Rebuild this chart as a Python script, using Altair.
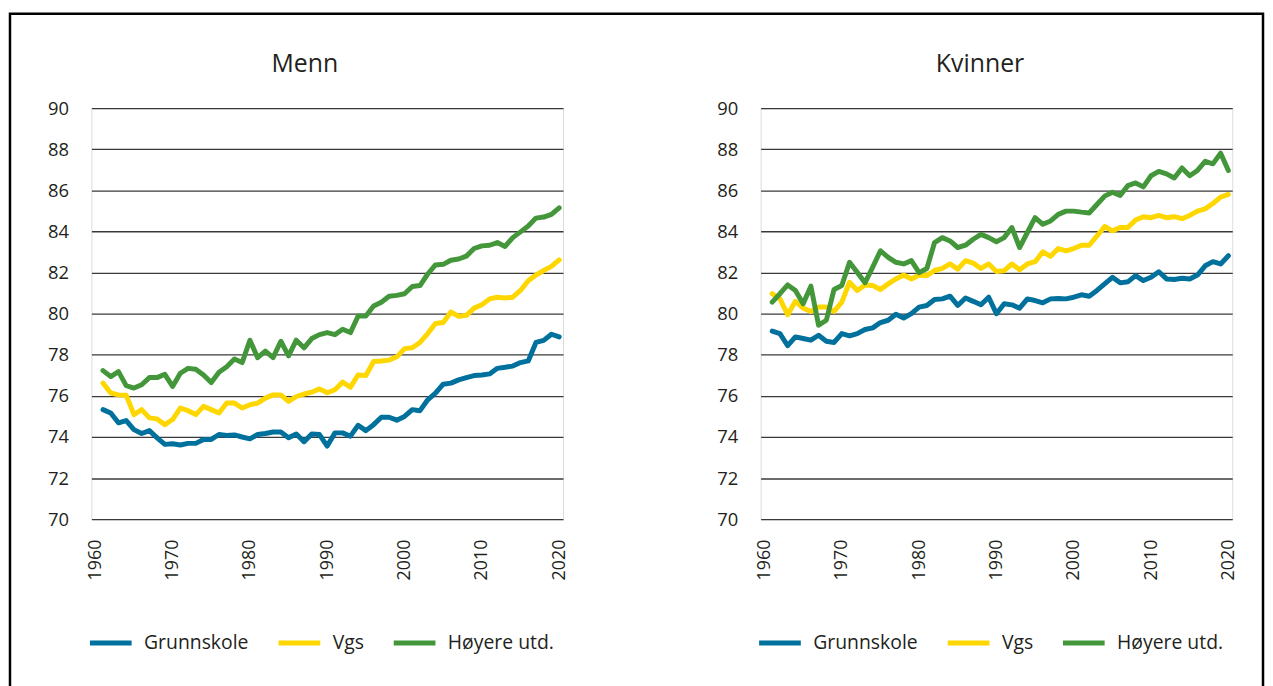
import altair as alt
import pandas as pd

years = list(range(1961, 2021))
series_names = ["Grunnskole", "Vgs", "Høyere utd."]
series_colors = ["#00719c", "#ffd700", "#43973a"]
x_tick_values = [1960, 1970, 1980, 1990, 2000, 2010, 2020]
y_tick_values = [70, 72, 74, 76, 78, 80, 82, 84, 86, 88, 90]

menn_grunnskole = [
    75.33, 75.17, 74.69, 74.80, 74.36, 74.17, 74.31, 73.96, 73.64, 73.67,
    73.61, 73.69, 73.69, 73.88, 73.88, 74.12, 74.07, 74.10, 74.00, 73.91,
    74.12, 74.17, 74.24, 74.24, 73.96, 74.15, 73.77, 74.15, 74.12, 73.56,
    74.20, 74.20, 74.04, 74.57, 74.31, 74.60, 74.96, 74.96, 74.82, 75.00,
    75.33, 75.28, 75.81, 76.13, 76.57, 76.62, 76.78, 76.89, 76.99, 77.02,
    77.07, 77.34, 77.39, 77.45, 77.62, 77.70, 78.60, 78.70, 79.00, 78.87]
menn_vgs = [
    76.62, 76.14, 76.05, 76.03, 75.09, 75.33, 74.93, 74.88, 74.60, 74.85,
    75.41, 75.28, 75.09, 75.49, 75.33, 75.17, 75.65, 75.65, 75.41, 75.57,
    75.65, 75.89, 76.05, 76.05, 75.73, 75.97, 76.09, 76.18, 76.34, 76.15,
    76.30, 76.67, 76.42, 77.02, 76.99, 77.67, 77.70, 77.74, 77.90, 78.30,
    78.34, 78.60, 79.03, 79.52, 79.57, 80.08, 79.87, 79.92, 80.27, 80.43,
    80.72, 80.80, 80.76, 80.80, 81.13, 81.60, 81.88, 82.10, 82.30, 82.62]
menn_hoyere = [
    77.23, 76.94, 77.18, 76.50, 76.38, 76.54, 76.89, 76.89, 77.05, 76.46,
    77.10, 77.34, 77.30, 77.02, 76.65, 77.15, 77.42, 77.79, 77.62, 78.71,
    77.86, 78.18, 77.86, 78.66, 77.95, 78.71, 78.34, 78.79, 78.98, 79.08,
    78.98, 79.24, 79.08, 79.89, 79.89, 80.37, 80.56, 80.85, 80.89, 80.97,
    81.32, 81.37, 81.93, 82.37, 82.40, 82.60, 82.66, 82.80, 83.17, 83.30,
    83.33, 83.46, 83.27, 83.70, 83.98, 84.27, 84.65, 84.70, 84.83, 85.15]

kvinner_grunnskole = [
    79.15, 79.03, 78.44, 78.87, 78.79, 78.71, 78.95, 78.66, 78.60, 79.03,
    78.92, 79.03, 79.23, 79.31, 79.57, 79.68, 79.97, 79.79, 80.00, 80.32,
    80.40, 80.69, 80.72, 80.85, 80.40, 80.76, 80.60, 80.43, 80.80, 80.00,
    80.48, 80.43, 80.27, 80.72, 80.64, 80.53, 80.72, 80.74, 80.72, 80.80,
    80.92, 80.85, 81.13, 81.45, 81.77, 81.50, 81.55, 81.85, 81.61, 81.77,
    82.04, 81.69, 81.66, 81.72, 81.69, 81.88, 82.33, 82.53, 82.42, 82.82]
kvinner_vgs = [
    80.97, 80.72, 79.95, 80.60, 80.27, 80.11, 80.32, 80.32, 80.11, 80.56,
    81.53, 81.13, 81.40, 81.37, 81.18, 81.45, 81.69, 81.88, 81.69, 81.88,
    81.85, 82.10, 82.20, 82.42, 82.17, 82.58, 82.46, 82.20, 82.42, 82.05,
    82.09, 82.42, 82.14, 82.42, 82.53, 83.01, 82.79, 83.17, 83.06, 83.17,
    83.33, 83.33, 83.78, 84.24, 84.03, 84.19, 84.19, 84.56, 84.72, 84.67,
    84.78, 84.67, 84.72, 84.62, 84.78, 84.99, 85.10, 85.36, 85.67, 85.80]
kvinner_hoyere = [
    80.56, 80.97, 81.40, 81.13, 80.48, 81.34, 79.44, 79.68, 81.18, 81.37,
    82.50, 82.01, 81.50, 82.26, 83.06, 82.74, 82.50, 82.42, 82.58, 82.00,
    82.20, 83.46, 83.70, 83.54, 83.22, 83.33, 83.62, 83.86, 83.70, 83.50,
    83.70, 84.19, 83.22, 83.95, 84.67, 84.35, 84.51, 84.83, 84.99, 84.99,
    84.94, 84.90, 85.31, 85.72, 85.91, 85.75, 86.23, 86.36, 86.17, 86.71,
    86.92, 86.80, 86.60, 87.09, 86.71, 86.97, 87.41, 87.29, 87.81, 86.97]

FONT = "Open Sans"
TEXT = "#231f20"


def long_frame(groups):
    rows = []
    for name, vals in zip(series_names, groups):
        for yr, v in zip(years, vals):
            rows.append({"year": yr, "value": v, "series": name})
    return pd.DataFrame(rows)


def panel(title, groups, title_x, with_frame=False):
    df = long_frame(groups)
    lines = (
        alt.Chart(df)
        .mark_line(strokeWidth=5, strokeCap="round", strokeJoin="round")
        .encode(
            x=alt.X(
                "year:Q",
                scale=alt.Scale(domain=[1959.5, 2020.5], nice=False, zero=False),
                axis=alt.Axis(
                    values=x_tick_values, format="d", labelAngle=270,
                    grid=False, domain=False, ticks=False, labelPadding=20,
                    labelFontSize=18, labelFont=FONT, labelColor=TEXT, title=None,
                ),
            ),
            y=alt.Y(
                "value:Q",
                scale=alt.Scale(domain=[70, 90], nice=False, zero=False),
                axis=alt.Axis(
                    values=y_tick_values, grid=True, gridColor="#3a3a3a",
                    gridWidth=1.3, domain=False, ticks=False, labelPadding=23,
                    labelFontSize=18.5, labelFont=FONT,
                    labelColor=TEXT, title=None,
                ),
            ),
            color=alt.Color(
                "series:N",
                sort=series_names,
                scale=alt.Scale(domain=series_names, range=series_colors),
                legend=alt.Legend(
                    orient="none", legendX=-4, legendY=515, direction="horizontal",
                    title=None, symbolType="stroke", symbolSize=1764,
                    symbolStrokeWidth=5, labelFontSize=19.5, labelFont=FONT,
                    labelColor=TEXT, labelOffset=10, columnPadding=19,
                ),
            ),
        )
    )
    heading = (
        alt.Chart(pd.DataFrame({"t": [title]}))
        .mark_text(fontSize=25, font=FONT, color=TEXT, align="center",
                   baseline="alphabetic")
        .encode(text="t:N", x=alt.value(title_x), y=alt.value(-36))
    )
    layers = [lines, heading]
    if with_frame:
        box = (
            alt.Chart(pd.DataFrame({"a": [0]}))
            .mark_rect(filled=False, stroke="black", strokeWidth=2.5)
            .encode(x=alt.value(-82), x2=alt.value(1180),
                    y=alt.value(-95), y2=alt.value(700))
        )
        layers.append(box)
    return alt.layer(*layers).properties(width=475, height=414)


left = panel("Menn", [menn_grunnskole, menn_vgs, menn_hoyere], 215, with_frame=True)
right = panel("Kvinner", [kvinner_grunnskole, kvinner_vgs, kvinner_hoyere], 221)

chart = (
    alt.hconcat(left, right, spacing=199, bounds="flush")
    .resolve_legend(color="independent")
    .properties(padding={"left": 0, "top": 1, "right": 0, "bottom": 0})
    .configure_view(stroke="transparent")
    .configure(background="white")
)

chart.save("out.html", embed_options={"renderer": "svg", "actions": False})
